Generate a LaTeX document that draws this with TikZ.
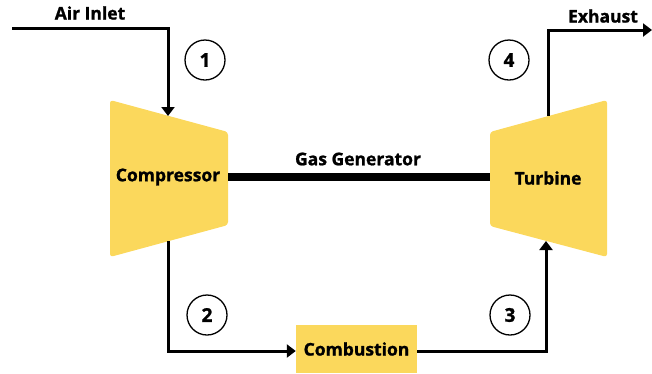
\documentclass[tikz,border=0pt]{standalone}
\usepackage{fontspec}
\setmainfont{Open Sans}[BoldFeatures={FakeBold=1.2}]
\usepackage{tikz}
\usetikzlibrary{arrows.meta, calc, positioning}
\definecolor{machine}{RGB}{251,216,92}

\begin{document}
\begin{tikzpicture}[x=1pt,y=-1pt,
    flow/.style={line width=3pt,-{Triangle[length=9pt,width=13pt]}},
    tag/.style={font=\fontsize{17.5}{20}\selectfont\bfseries},
    stage/.style={draw,circle,line width=1.3pt,minimum size=40pt,inner sep=0pt,font=\fontsize{19}{20}\selectfont\bfseries}]
    \useasboundingbox (0,0) rectangle (652,373);

    % compressor and turbine bodies
    \coordinate (C1) at (110,100);
    \coordinate (C2) at (228,132);
    \coordinate (C3) at (228,225);
    \coordinate (C4) at (110,257);
    \fill[machine,rounded corners=3pt] (C1) -- (C2) -- (C3) -- (C4) -- cycle;
    \coordinate (T1) at (490,132);
    \coordinate (T2) at (607,100);
    \coordinate (T3) at (607,257);
    \coordinate (T4) at (490,226);
    \fill[machine,rounded corners=3pt] (T1) -- (T2) -- (T3) -- (T4) -- cycle;

    \node[tag] (comp) at (168,177) {Compressor};
    \node[tag] (turb) at (548,178) {Turbine};
    \node[tag,fill=machine,minimum width=121pt,minimum height=48pt] (comb) at (356.5,349) {Combustion};

    \draw[line width=8pt] (C2 |- comp) -- (T1 |- comp);
    \node[tag] (gas) at (358,159) {Gas Generator};

    % air in
    \coordinate (A0) at (12,28);
    \coordinate (A1) at (168,28);
    \coordinate (A2) at (168,116);
    \draw[flow] (A0) -- (A1) -- (A2);
    \node[tag] (air) at (90,13) {Air Inlet};

    % compressor to combustion
    \coordinate (B0) at (168,241);
    \coordinate (B1) at (168,351);
    \draw[flow] (B0) -- (B1) -- (comb.west |- B1);

    % combustion to turbine
    \coordinate (D1) at (546,351);
    \coordinate (D2) at (546,241);
    \draw[flow] (comb.east |- D1) -- (D1) -- (D2);

    % exhaust
    \coordinate (E0) at (548,116);
    \coordinate (E1) at (548,30);
    \coordinate (E2) at (652,30);
    \draw[flow] (E0) -- (E1) -- (E2);
    \node[tag] (exh) at (603,16) {Exhaust};

    \node[stage] (s1) at (205,60) {1};
    \node[stage] (s2) at (207,315) {2};
    \node[stage] (s3) at (510,315) {3};
    \node[stage] (s4) at (509,60) {4};
\end{tikzpicture}
\end{document}
